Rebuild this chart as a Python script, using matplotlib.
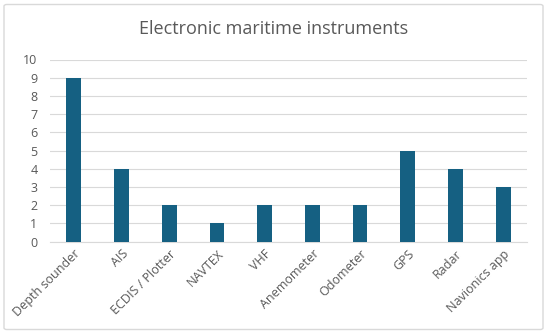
import matplotlib
matplotlib.use("Agg")
import matplotlib.pyplot as plt
from matplotlib.patches import FancyBboxPatch

categories = ["Depth sounder", "AIS", "ECDIS / Plotter", "NAVTEX", "VHF",
              "Anemometer", "Odometer", "GPS", "Radar", "Navionics app"]
values = [9, 4, 2, 1, 2, 2, 2, 5, 4, 3]
yticks = list(range(0, 11))

plt.rcParams['font.family'] = ['Open Sans', 'DejaVu Sans']

fig = plt.figure(figsize=(5.5, 3.35), dpi=100)
fig.patch.set_facecolor("white")
border = FancyBboxPatch((4/550, 1 - 329.5/335), 539/550, 325/335,
                        boxstyle="round,pad=0,rounding_size=0.005",
                        transform=fig.transFigure, facecolor="none",
                        edgecolor="#d9d9d9", linewidth=1.0, zorder=-10)
fig.patches.append(border)

ax = fig.add_axes([50/550, 1 - 241.7/335, (527 - 50)/550, (241.7 - 59.5)/335])
ax.set_facecolor("none")
x = list(range(len(categories)))
ax.bar(x, values, width=0.31, color="#156082", zorder=3)
ax.set_xlim(-0.5, len(categories) - 0.5)
ax.set_ylim(0, 10)
ax.set_yticks(yticks)
ax.set_yticklabels([str(t) for t in yticks])
ax.yaxis.grid(True, color="#d9d9d9", linewidth=0.8, zorder=0)
ax.set_axisbelow(True)
for s in ax.spines.values():
    s.set_visible(False)
ax.spines['bottom'].set_visible(True)
ax.spines['bottom'].set_color("#d9d9d9")
ax.tick_params(axis='both', length=0, colors="#595959", labelsize=9)
ax.tick_params(axis='y', pad=9)
ax.set_xticks(x)
ax.set_xticklabels(categories, rotation=45, ha='right', va='top',
                   rotation_mode='anchor')
ax.tick_params(axis='x', pad=4)
fig.text(274/550, 1 - 29/335, "Electronic maritime instruments", ha='center',
         va='center', fontsize=13, color="#595959")
fig.savefig("out.png", dpi=100, facecolor="white")
